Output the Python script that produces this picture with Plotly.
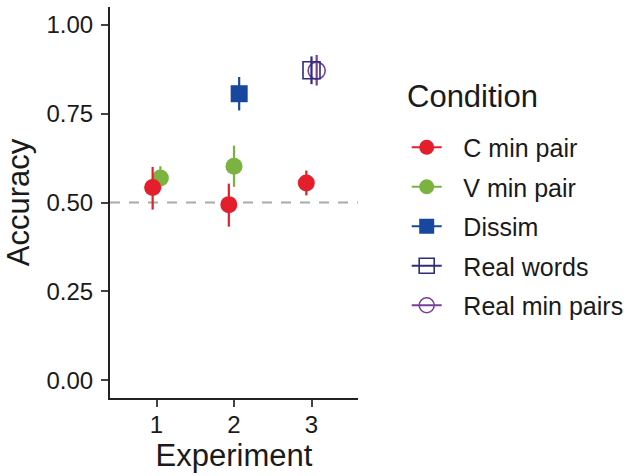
import plotly.graph_objects as go

# ---- data ----
conditions = ["C min pair", "V min pair", "Dissim", "Real words", "Real min pairs"]
colors = ["#E41E2B", "#7CB23F", "#17479E", "#2E2C7D", "#7A3E9D"]
symbols = ["circle", "circle", "square", "square-open", "circle-open"]

experiment = {
    "C min pair": [1, 2, 3],
    "V min pair": [1, 2],
    "Dissim": [2],
    "Real words": [3],
    "Real min pairs": [3],
}
accuracy = {
    "C min pair": [0.542, 0.494, 0.555],
    "V min pair": [0.569, 0.602],
    "Dissim": [0.806],
    "Real words": [0.872],
    "Real min pairs": [0.871],
}
ci_low = {
    "C min pair": [0.480, 0.432, 0.520],
    "V min pair": [0.536, 0.544],
    "Dissim": [0.759],
    "Real words": [0.833],
    "Real min pairs": [0.829],
}
ci_high = {
    "C min pair": [0.600, 0.553, 0.590],
    "V min pair": [0.602, 0.660],
    "Dissim": [0.853],
    "Real words": [0.911],
    "Real min pairs": [0.915],
}
chance = 0.5
y_ticks = [0.0, 0.25, 0.5, 0.75, 1.0]
y_ticklabels = ["0.00", "0.25", "0.50", "0.75", "1.00"]
x_ticks = [1, 2, 3]
dodge_width = 0.2

# ---- dodge positions (like position_dodge(width=0.2)) ----
groups = {}
for c in conditions:
    for e in experiment[c]:
        groups.setdefault(e, []).append(c)

def dodged(c, e):
    members = groups[e]
    n = len(members)
    i = members.index(c)
    return e - dodge_width / 2 + dodge_width / n * (i + 0.5)

FONT = "Liberation Sans, Arial, Helvetica, sans-serif"
W, H = 629, 476
fig = go.Figure()

# data traces (drawn in reverse so first condition is on top)
for c, col, sym in reversed(list(zip(conditions, colors, symbols))):
    xs = [dodged(c, e) for e in experiment[c]]
    ys = accuracy[c]
    fig.add_trace(go.Scatter(
        x=xs, y=ys, mode="markers", showlegend=False, name=c,
        marker=dict(symbol=sym, size=17, color=col,
                    line=dict(width=1.6 if "open" in sym else 0, color=col)),
        error_y=dict(type="data", symmetric=False,
                     array=[h - y for h, y in zip(ci_high[c], ys)],
                     arrayminus=[y - l for l, y in zip(ci_low[c], ys)],
                     color=col, thickness=2.2, width=0),
    ))

# legend entries
for c, col, sym in zip(conditions, colors, symbols):
    fig.add_trace(go.Scatter(
        x=[None], y=[None], mode="lines+markers", name="\u2002\u2006" + c, legendgroup=c,
        line=dict(color=col, width=2),
        marker=dict(symbol=sym, size=15, color=col,
                    line=dict(width=1.6 if "open" in sym else 0, color=col)),
    ))

fig.add_hline(y=chance, line=dict(color="#AAAAAA", width=2, dash="10px,9px"), layer="below")

fig.add_annotation(text="Condition", xref="paper", yref="paper",
                   x=(405 - 110) / 248, y=(398 - 96) / 391,
                   xanchor="left", yanchor="middle", showarrow=False,
                   font=dict(size=31, color="#1a1a1a"))

fig.update_layout(
    width=W, height=H,
    margin=dict(l=110, r=271, t=7, b=78),
    paper_bgcolor="white", plot_bgcolor="white",
    font=dict(family=FONT, color="#1a1a1a"),
    xaxis=dict(range=[0.4, 3.6], tickvals=x_ticks, ticktext=[str(v) for v in x_ticks],
               showline=True, linecolor="#222", linewidth=2, mirror=False,
               ticks="outside", ticklen=7, tickwidth=2, tickcolor="#444",
               tickfont=dict(size=24, color="#1a1a1a"), ticklabelstandoff=-3,
               showgrid=False, zeroline=False,
               title=dict(text="Experiment", font=dict(size=31), standoff=7)),
    yaxis=dict(range=[-0.05, 1.05], tickvals=y_ticks, ticktext=y_ticklabels,
               showline=True, linecolor="#222", linewidth=2,
               ticks="outside", ticklen=7, tickwidth=2, tickcolor="#444",
               tickfont=dict(size=24, color="#1a1a1a"), ticklabelstandoff=3,
               showgrid=False, zeroline=False,
               title=dict(text="Accuracy", font=dict(size=31), standoff=8)),
    legend=dict(xref="container", yref="container",
                x=406.7 / W, xanchor="left", y=1 - 124.5 / H, yanchor="top",
                font=dict(size=25), tracegroupgap=4, itemwidth=30,
                bgcolor="rgba(0,0,0,0)"),
)

fig.write_html("out.html")
